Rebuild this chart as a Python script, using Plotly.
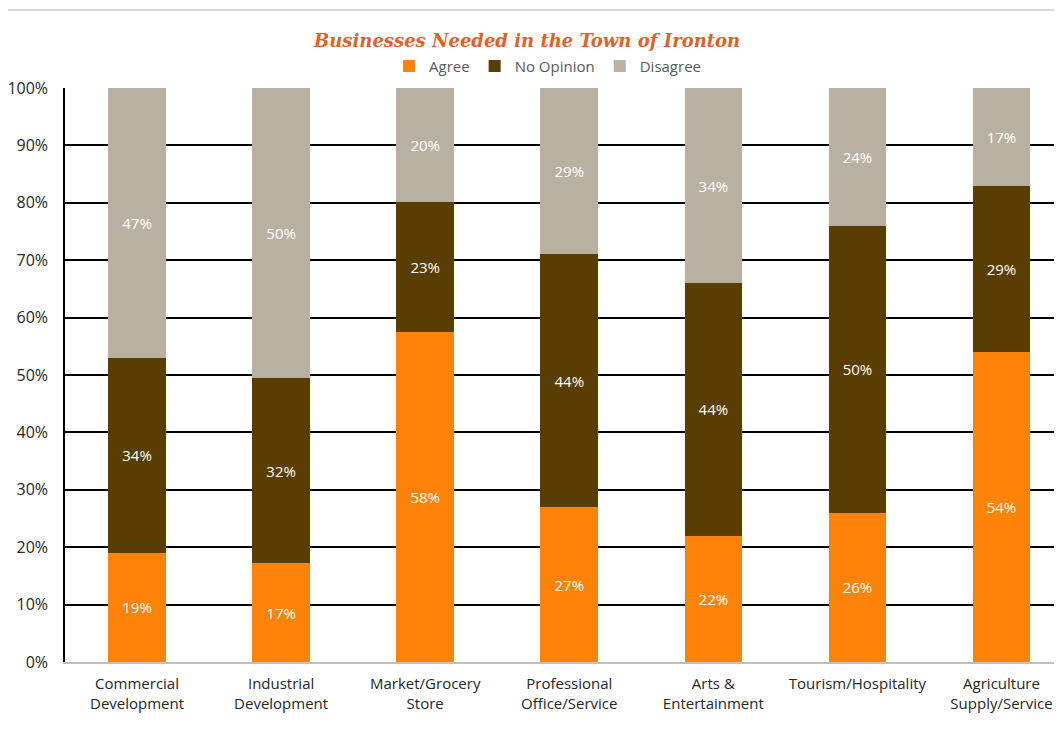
import plotly.graph_objects as go

categories = ["Commercial<br>Development", "Industrial<br>Development", "Market/Grocery<br>Store",
              "Professional<br>Office/Service", "Arts &<br>Entertainment", "Tourism/Hospitality",
              "Agriculture<br>Supply/Service"]
agree = [19, 17, 58, 27, 22, 26, 54]
no_opinion = [34, 32, 23, 44, 44, 50, 29]
disagree = [47, 50, 20, 29, 34, 24, 17]

series = [("Agree", agree, "#FF8306"),
          ("No Opinion", no_opinion, "#5A3D00"),
          ("Disagree", disagree, "#B8B1A2")]

fig = go.Figure()
for name, vals, col in series:
    fig.add_trace(go.Bar(x=categories, y=vals, name=name, marker_color=col,
                         marker_line_width=0, width=0.4,
                         text=[f"{v}%" for v in vals], textposition="inside",
                         insidetextanchor="middle", textangle=0,
                         textfont=dict(color="white", size=15, family="Open Sans"),
                         hoverinfo="skip"))

# page body has an 8px margin, so the figure is 8px smaller and offset
fig.update_layout(
    width=1054, height=726,
    barmode="stack", barnorm="percent",
    plot_bgcolor="white", paper_bgcolor="white",
    margin=dict(l=57, r=0, t=80, b=72),
    font=dict(family="Open Sans", size=15, color="#262626"),
    title=dict(text="<b><i>Businesses Needed in the Town of Ironton</i></b>",
               xref="container", x=0.4925, xanchor="center",
               yref="container", y=0.9545, yanchor="middle",
               font=dict(family="DejaVu Serif", size=18, color="#E0622A")),
    legend=dict(orientation="h", x=0.484, xanchor="center", y=1.038, yanchor="middle",
                font=dict(size=15, color="#595959"), traceorder="normal"),
    uniformtext=dict(minsize=10, mode="show"),
)
fig.update_xaxes(range=[-0.5, 6.42], showline=True, linecolor="#BFBFBF", linewidth=2,
                 showgrid=False, ticks="", ticklabelstandoff=7,
                 tickfont=dict(size=15, color="#262626"))
fig.update_yaxes(range=[0, 100], dtick=10, ticksuffix="%", showgrid=True,
                 gridcolor="black", gridwidth=1.5, showline=True, linecolor="black",
                 linewidth=1.5, zeroline=False, ticks="", ticklabelstandoff=12,
                 tickfont=dict(size=16, color="#262626"))
fig.add_shape(type="line", xref="paper", yref="paper", x0=-0.06, x1=1.2, y0=1.136, y1=1.136,
              line=dict(color="#D9D9D9", width=2), layer="below")

fig.write_html("out.html")
